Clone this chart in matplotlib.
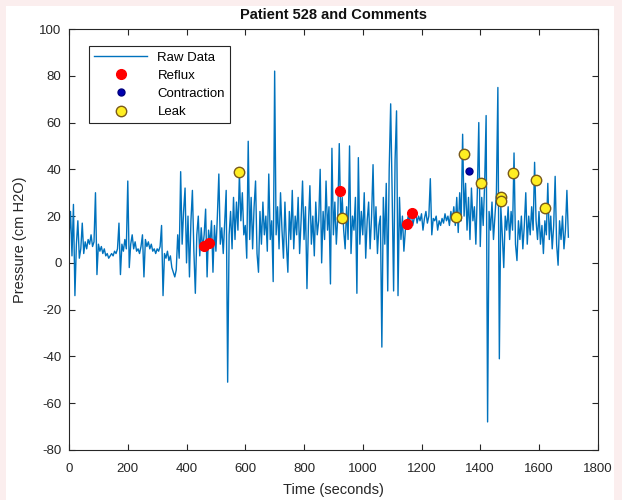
import numpy as np
import matplotlib
matplotlib.use("Agg")
import matplotlib.pyplot as plt
from matplotlib.patches import Rectangle

plt.rcParams['font.family'] = ['Liberation Sans', 'DejaVu Sans']
plt.rcParams['axes.unicode_minus'] = False

# raw pressure trace, one reading every 5 s
time_step = 5
pressure = [
    10, 22, 3, 25, -14, 8, 18, 2, 6, 17, 4, 9, 6, 10, 8, 12, 7, 9, 30, -5,
    8, 5, 7, 4, 6, 3, 4, 2, 3, 4, 3, 5, 4, 6, 17, -5, 8, 5, 10, 6,
    35, -2, 8, 12, 6, 9, 5, 6, 4, 7, 12, -6, 10, 7, 9, 6, 8, 5, 6, 4,
    6, 5, 7, 16, -14, 4, 2, 5, 1, 3, -2, -4, -6, -3, 12, 2, 39, 8, 22, 32,
    0, 20, -6, 18, 31, 5, -13, 12, 20, 3, 15, 6, 12, 23, -6, 14, 8, 18, -4, 16,
    5, 20, 38, 8, 15, 4, 18, 31, -51, 12, 22, 6, 28, 10, 26, 14, 38, 18, 30, 12,
    16, 2, 52, 10, 28, 6, 24, 35, 4, -4, 22, 8, 26, 12, 20, 5, 38, 10, 18, -8,
    82, 12, 24, 6, 30, 14, 2, 26, 8, -4, 22, 10, 31, 6, 20, 12, 28, 4, 18, 35,
    10, 24, -11, 16, 33, 8, 20, 3, 26, 12, 18, 40, 0, 22, 10, 35, 14, 24, -9, 49,
    12, 26, 8, 20, 51, 18, 28, 14, 6, 24, 10, 50, 4, 20, 14, 28, -13, 45, 8, 22,
    12, 30, 2, 18, 26, 6, 20, 42, 10, 24, 4, 16, 20, -36, 28, 8, 34, -12, 40, 68,
    30, -12, 44, 65, -14, 28, 10, 20, 5, 14, 17, 20, 18, 22, 16, 19, 22, 17, 20, 18,
    21, 14, 19, 22, 17, 20, 36, 12, 19, 18, 20, 14, 18, 16, 19, 17, 21, 18, 20, 16,
    22, 18, 24, 16, 28, 13, 30, 18, 55, 20, 34, 14, 28, 10, 32, 18, 24, 8, 30, 60,
    7, 28, 16, 34, 63, -68, 22, 14, 26, 10, 20, 30, 75, -41, 24, 12, -2, 20, 14, 24,
    10, 22, 14, 47, 8, 1, 18, 10, 20, 6, 16, 30, 8, 20, 12, 24, 14, 43, 18, 10,
    22, 8, 16, 4, 18, 12, 34, 10, 20, 6, 16, 37, 8, -1, 18, 10, 20, 6, 14, 31,
    11,
]
time = np.arange(len(pressure)) * time_step

reflux_t = [458, 475, 924, 1149, 1166]
reflux_p = [7.2, 8.5, 30.8, 16.5, 21.3]

contraction_t = [1362]
contraction_p = [39.3]

leak_t = [579, 930, 1317, 1344, 1401, 1469, 1469, 1512, 1589, 1620]
leak_p = [39, 19.4, 19.5, 46.6, 34.3, 28.3, 26.5, 38.6, 35.5, 23.4]

fig = plt.figure(figsize=(6.22, 5.0), dpi=100, facecolor='#fbeeee')
panel = Rectangle((6 / 622, 0), 608 / 622, 494 / 500,
                  transform=fig.transFigure, facecolor='white',
                  edgecolor='none', zorder=-10)
fig.add_artist(panel)
ax = fig.add_axes([0.111, 0.10, 0.850, 0.842])
ax.set_zorder(1)

ax.plot(time, pressure, color='#0072BD', linewidth=1.0, label='Raw Data')
ax.plot(reflux_t, reflux_p, 'o', color='#ff0000', markersize=7,
        markeredgecolor='#ff0000', label='Reflux')
ax.plot(contraction_t, contraction_p, 'o', color='#0000b0', markersize=5,
        markeredgecolor='#000080', label='Contraction')
ax.plot(leak_t, leak_p, 'o', color='#ffee22', markersize=7.5,
        markeredgecolor='#7a5a1a', markeredgewidth=1.0, label='Leak')

ax.set_xlim(0, 1800)
ax.set_ylim(-80, 100)
ax.set_xticks(np.arange(0, 1801, 200))
ax.set_yticks(np.arange(-80, 101, 20))
ax.tick_params(direction='in', top=True, right=True, length=4,
               labelsize=9.5, color='#262626', labelcolor='#262626')
ax.tick_params(axis='x', pad=9)
ax.tick_params(axis='y', pad=5.5)
for s in ax.spines.values():
    s.set_color('#262626')
    s.set_linewidth(0.8)

ax.set_title('Patient 528 and Comments', fontsize=10.5, fontweight='bold',
             pad=7, color='#111111')
ax.set_xlabel('Time (seconds)', fontsize=10.5, color='#262626', labelpad=6)
ax.set_ylabel('Pressure (cm H2O)', fontsize=10.5, color='#262626', labelpad=9)

leg = ax.legend(loc='upper left', bbox_to_anchor=(0.025, 0.975),
                fontsize=9.5, handlelength=4.0, labelspacing=0.45,
                fancybox=False, framealpha=1, borderpad=0.4)
leg.get_frame().set_edgecolor('#262626')
leg.get_frame().set_linewidth(0.8)

fig.savefig('out.png', dpi=100, facecolor=fig.get_facecolor())
